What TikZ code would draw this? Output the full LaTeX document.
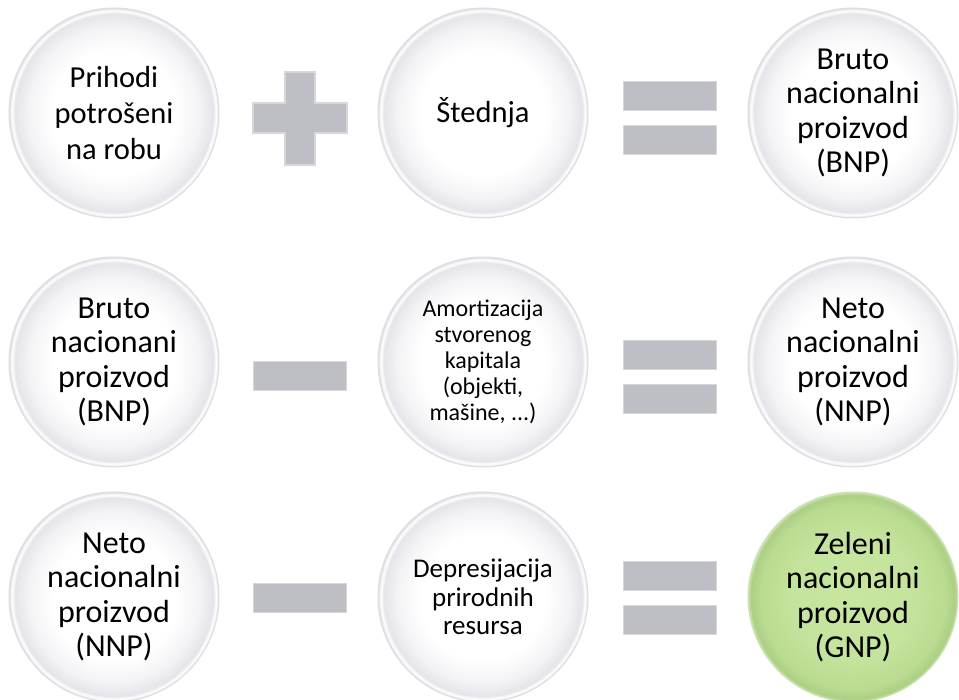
\documentclass[tikz,border=0pt]{standalone}
\usepackage{fontspec}
\setmainfont{Carlito}
\definecolor{opfill}{RGB}{190,190,197}
\definecolor{opedge}{RGB}{214,214,219}
\definecolor{rimgray}{RGB}{222,222,226}
\definecolor{ringgray}{RGB}{228,228,234}
\definecolor{ringmid}{RGB}{243,243,246}
\definecolor{gA}{RGB}{200,230,160}
\definecolor{gB}{RGB}{196,227,156}
\definecolor{gC}{RGB}{186,219,145}
\definecolor{gD}{RGB}{172,207,132}
\definecolor{grim}{RGB}{205,228,180}
\pgfdeclareradialshading{bubblewhite}{\pgfpoint{0bp}{0bp}}{color(0bp)=(white); color(15bp)=(white); color(20.5bp)=(ringmid); color(23.6bp)=(ringgray); color(24.3bp)=(white); color(25bp)=(rimgray); color(50bp)=(rimgray)}
\pgfdeclareradialshading{bubblegreen}{\pgfpoint{0bp}{0bp}}{color(0bp)=(gA); color(15bp)=(gB); color(22bp)=(gC); color(24.3bp)=(gD); color(25bp)=(grim); color(50bp)=(grim)}
\tikzset{
  bubble/.style={circle, minimum size=210pt, inner sep=0pt, shading=bubblewhite, draw=rimgray, line width=1pt, align=center, text=black, font=\fontsize{32}{34.5}\selectfont},
  greenbubble/.style={bubble, shading=bubblegreen, draw=grim},
  threeline/.style={font=\fontsize{30.5}{36}\selectfont},
  amort/.style={font=\fontsize{24}{26}\selectfont},
  depres/.style={font=\fontsize{27}{28.5}\selectfont},
  bar/.style={rectangle, minimum width=93pt, minimum height=29pt, inner sep=0pt, fill=opfill, draw=opedge, line width=1.6pt},
  plusop/.style={fill=opfill, draw=opedge, line width=1.6pt}
}
\begin{document}
\begin{tikzpicture}[x=1pt,y=-1pt]
\useasboundingbox (0,0) rectangle (959,700);
\fill[white] (0,0) rectangle (959,700);
% row 1
\node[bubble, threeline] (c11) at (114,113) {Prihodi\\potrošeni\\na robu};
\node[bubble, threeline] (c12) at (483,113) {Štednja};
\node[bubble] (c13) at (853,113) {Bruto\\nacionalni\\proizvod\\(BNP)};
\path[plusop] (285,72) -- (315,72) -- (315,103) -- (347,103) -- (347,133) -- (315,133) -- (315,165) -- (285,165) -- (285,133) -- (253,133) -- (253,103) -- (285,103) -- cycle;
\node[bar] (e1a) at (670,96) {};
\node[bar] (e1b) at (670,140) {};
% row 2
\node[bubble] (c21) at (114,362) {Bruto\\nacionani\\proizvod\\(BNP)};
\node[bubble, amort] (c22) at (483,362) {Amortizacija\\stvorenog\\kapitala\\(objekti,\\mašine, ...)};
\node[bubble] (c23) at (853,362) {Neto\\nacionalni\\proizvod\\(NNP)};
\node[bar] (m2) at (300,376) {};
\node[bar] (e2a) at (670,355) {};
\node[bar] (e2b) at (670,399) {};
% row 3
\node[bubble] (c31) at (114,597) {Neto\\nacionalni\\proizvod\\(NNP)};
\node[bubble, depres] (c32) at (483,597) {Depresijacija\\prirodnih\\resursa};
\node[greenbubble] (c33) at (853,597) {Zeleni\\nacionalni\\proizvod\\(GNP)};
\node[bar] (m3) at (300,598) {};
\node[bar] (e3a) at (670,576) {};
\node[bar] (e3b) at (670,620) {};
\end{tikzpicture}
\end{document}
